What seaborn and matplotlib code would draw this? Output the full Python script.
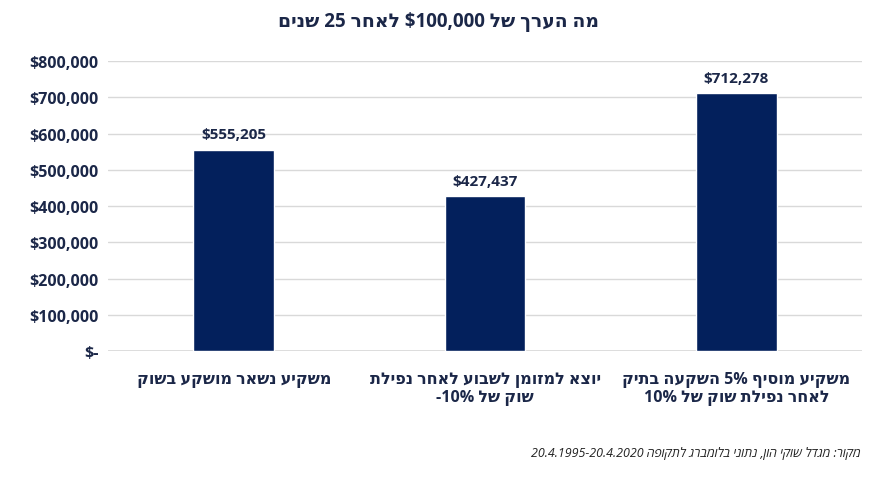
import re
import pandas as pd
import matplotlib
matplotlib.use("Agg")
import matplotlib.pyplot as plt
import seaborn as sns
from matplotlib.ticker import FuncFormatter

# נתונים (סדר תצוגה משמאל לימין)
categories = [
    "משקיע נשאר מושקע בשוק",
    "יוצא למזומן לשבוע לאחר נפילת\nשוק של -10%",
    "משקיע מוסיף 5% השקעה בתיק\nלאחר נפילת שוק של 10%",
]
values = [555205, 427437, 712278]
yticks = [0, 100000, 200000, 300000, 400000, 500000, 600000, 700000, 800000]

TITLE = "מה הערך של $100,000 לאחר 25 שנים"
SOURCE = "מקור: מגדל שוקי הון, נתוני בלומברג לתקופה 20.4.1995-20.4.2020"

NAVY = "#03205c"
TEXT = "#1b2748"


def visual(s):
    # matplotlib לא תומך ב-RTL: הופכים את הסדר ומשאירים רצפי מספרים כמו שהם
    out = []
    for line in s.split("\n"):
        r = line[::-1]
        r = re.sub(r"[0-9$%.,\-]+", lambda m: m.group(0)[::-1], r)
        out.append(r)
    return "\n".join(out)


sns.set_theme(style="white")
plt.rcParams['font.family'] = ['Open Sans', 'DejaVu Sans']

df = pd.DataFrame({"cat": [visual(c) for c in categories], "val": values})

fig = plt.figure(figsize=(8.78, 4.81), dpi=100)
ax = fig.add_axes([0.123, 0.268, 0.859, 0.603])

sns.barplot(data=df, x="cat", y="val", color=NAVY, width=0.32, saturation=1, ax=ax)

ax.set_ylim(0, 800000)
ax.set_yticks(yticks)
ax.yaxis.set_major_formatter(FuncFormatter(lambda v, p: "$-" if v == 0 else f"${v:,.0f}"))
ax.grid(axis="y", color="#d9d9d9", linewidth=1)
ax.set_axisbelow(True)
for sp in ax.spines.values():
    sp.set_visible(False)
ax.axhline(0, color="#d9d9d9", linewidth=1.2, zorder=0)
ax.tick_params(axis="both", length=0)
ax.tick_params(axis="y", pad=7, labelsize=11.5, labelcolor=TEXT)
ax.tick_params(axis="x", pad=14, labelsize=11.5, labelcolor=TEXT)
for t in ax.get_yticklabels():
    t.set_fontweight("bold")
for t in ax.get_xticklabels():
    t.set_fontweight("bold")
    t.set_multialignment("center")
ax.set_xlabel("")
ax.set_ylabel("")

ax.bar_label(ax.containers[0], labels=[f"${v:,.0f}" for v in values],
             padding=6, fontsize=11, fontweight="bold", color=TEXT)

fig.text(0.5, 0.955, visual(TITLE), ha="center", va="center",
         fontsize=13.5, fontweight="bold", color=TEXT)
fig.text(0.98, 0.058, visual(SOURCE), ha="right", va="center",
         fontsize=9, style="italic", color="#222222")

fig.savefig("out.png", dpi=100)
